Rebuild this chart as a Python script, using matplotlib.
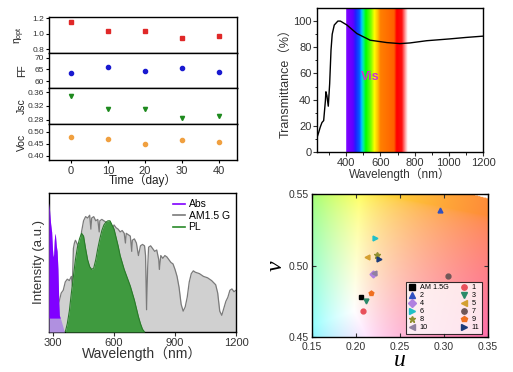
#!/usr/bin/env python
import numpy as np
from matplotlib import pyplot as plt
from matplotlib.colors import LinearSegmentedColormap
from matplotlib.lines import Line2D

W, H = 513, 372
FONT = ['Liberation Sans', 'Noto Sans CJK SC']
plt.rcParams['font.family'] = FONT

# --- stability panel (top left) ---
DAYS = [0, 10, 20, 30, 40]
ETA = [1.15, 1.03, 1.03, 0.95, 0.97]
FF = [63.5, 66.0, 64.5, 65.5, 64.0]
JSC = [0.350, 0.310, 0.311, 0.285, 0.292]
VOC = [0.476, 0.470, 0.450, 0.465, 0.455]

# --- transmittance (top right) ---
T_WL = [229, 239, 248, 258, 268, 278, 281, 287, 295, 303, 311, 318, 330, 351, 366, 404,
        462, 540, 637, 714, 772, 870, 1006, 1100, 1200]
T_VAL = [11, 15, 19, 22.5, 24, 39, 46, 43, 35, 52, 78, 90, 97, 100, 100, 97,
         90.5, 85.4, 83.6, 82.8, 83.3, 85, 86.4, 87.5, 88.5]
VIS_WL = [400, 405, 440, 455, 478, 490, 500, 515, 545, 565, 585, 600, 680, 695, 725, 745, 760]
VIS_COL = ['#a060ff', '#8000ff', '#6000ff', '#2020ff', '#0060ff', '#00c0ff', '#00f0a0',
           '#00ff00', '#80ff00', '#ffff00', '#ffc000', '#ff8000', '#ff6000', '#ff0000',
           '#ff1010', '#ffa0a0', '#ffffff']

# --- spectra (bottom left) ---
AM_WL = [280, 300, 310, 320, 330, 340, 350, 360, 370, 380, 390, 395, 400, 405, 410, 420,
         430, 435, 440, 450, 460, 470, 480, 486, 490, 500, 510, 520, 527, 530, 540, 550,
         560, 570, 580, 590, 600, 610, 620, 630, 640, 650, 656, 660, 670, 680, 687, 690,
         700, 710, 720, 730, 740, 750, 755, 760, 765, 770, 780, 790, 800, 810, 820, 823,
         830, 840, 850, 860, 870, 880, 890, 900, 910, 920, 930, 940, 950, 960, 970, 980,
         990, 1000, 1020, 1040, 1060, 1080, 1100, 1110, 1120, 1130, 1140, 1150, 1160,
         1170, 1180, 1190, 1200]
AM_VAL = [0.0, 0.01, 0.08, 0.18, 0.22, 0.28, 0.30, 0.36, 0.38, 0.37, 0.40, 0.33, 0.60,
          0.64, 0.66, 0.63, 0.60, 0.55, 0.72, 0.80, 0.83, 0.82, 0.84, 0.74, 0.82, 0.83,
          0.80, 0.81, 0.72, 0.80, 0.81, 0.80, 0.79, 0.78, 0.79, 0.74, 0.77, 0.75, 0.74,
          0.72, 0.73, 0.71, 0.64, 0.71, 0.70, 0.69, 0.58, 0.66, 0.67, 0.64, 0.55, 0.62,
          0.63, 0.62, 0.55, 0.16, 0.45, 0.61, 0.62, 0.60, 0.58, 0.59, 0.52, 0.45, 0.55,
          0.53, 0.55, 0.54, 0.52, 0.50, 0.49, 0.45, 0.40, 0.32, 0.20, 0.15, 0.18, 0.25,
          0.36, 0.42, 0.44, 0.43, 0.42, 0.40, 0.39, 0.37, 0.34, 0.28, 0.15, 0.12, 0.17,
          0.22, 0.25, 0.30, 0.31, 0.29, 0.30]
PL_WL = [355, 360, 370, 380, 390, 400, 410, 420, 430, 440, 450, 460, 470, 480, 490, 500,
         510, 520, 530, 540, 550, 560, 570, 580, 590, 600, 610, 620, 630, 640, 650, 660,
         670, 680, 690, 700, 710, 720, 730, 740, 750]
PL_VAL = [0.0, 0.0, 0.06, 0.15, 0.28, 0.40, 0.52, 0.61, 0.67, 0.71, 0.69, 0.60, 0.52,
          0.47, 0.45, 0.46, 0.52, 0.60, 0.67, 0.73, 0.77, 0.79, 0.80, 0.80, 0.77, 0.74,
          0.68, 0.62, 0.55, 0.50, 0.45, 0.41, 0.37, 0.33, 0.28, 0.23, 0.17, 0.11, 0.06,
          0.02, 0.0]
ABS_WL = [280, 284, 288, 293, 297, 300, 303, 306, 309, 312, 316, 320, 324, 328, 331, 340,
          348, 356]
ABS_VAL = [0.93, 0.85, 0.78, 0.72, 0.60, 0.54, 0.56, 0.66, 0.71, 0.69, 0.62, 0.58, 0.45,
           0.22, 0.12, 0.08, 0.04, 0.0]

# --- u'v' chromaticity (bottom right) ---
SAMPLES = ['AM 1.5G', '1', '2', '3', '4', '5', '6', '7', '8', '9', '10', '11']
U = [0.206, 0.208, 0.296, 0.211, 0.219, 0.213, 0.222, 0.304, 0.224, 0.217, 0.220, 0.226]
V = [0.478, 0.468, 0.539, 0.4755, 0.494, 0.506, 0.519, 0.4925, 0.507, 0.481, 0.4945, 0.5045]
MARKERS = ['s', 'o', '^', 'v', 'D', '<', '>', 'o', '*', 'p', '<', '>']
COLORS = ['#000000', '#e8505a', '#3050c0', '#2a8a6a', '#b080e0', '#d4a030', '#20c0c8',
          '#705858', '#909030', '#f07020', '#9080a0', '#1a3a7a']
LOCUS_U = [0.2623, 0.3315, 0.4035]
LOCUS_V = [0.5604, 0.5501, 0.5390]


def px_axes(fig, l, t, r, b):
    return fig.add_axes([l / W, 1 - b / H, (r - l) / W, (b - t) / H])


def draw_stability(fig):
    tops = [17, 53, 88, 124, 160]
    series = [ETA, FF, JSC, VOC]
    labels = [r'$\mathregular{\eta_{opt}}$', 'FF', 'Jsc', 'Voc']
    colors = ['#e02828', '#1a1ad0', '#1e8a1e', '#f0a040']
    markers = ['s', 'o', 'v', 'o']
    ylims = [(0.752, 1.217), (57, 72), (0.268, 0.372), (0.382, 0.532)]
    yticks = [[0.8, 1.0, 1.2], [60, 65, 70], [0.28, 0.32, 0.36], [0.40, 0.45, 0.50]]
    ytl = [['0.8', '1.0', '1.2'], ['60', '65', '70'], ['0.28', '0.32', '0.36'],
           ['0.40', '0.45', '0.50']]
    for i in range(4):
        ax = px_axes(fig, 49, tops[i], 237, tops[i + 1])
        ax.plot(DAYS, series[i], ls='none', marker=markers[i], color=colors[i], ms=3)
        ax.set_xlim(-6, 45)
        ax.set_ylim(*ylims[i])
        ax.set_yticks(yticks[i])
        ax.set_yticklabels(ytl[i], fontsize=6, color='#333333')
        ax.tick_params(axis='y', length=2.5, width=0.8, pad=1)
        ax.set_ylabel(labels[i], fontsize=7.5, color='#222222')
        ax.yaxis.set_label_coords(-0.118, 0.5)
        for s in ax.spines.values():
            s.set_linewidth(1.0)
        if i < 3:
            ax.set_xticks([])
        else:
            ax.set_xticks(DAYS)
            ax.set_xticklabels([str(d) for d in DAYS], fontsize=8, color='#333333')
            ax.tick_params(axis='x', length=2.5, width=0.8, pad=1.5)
            ax.set_xlabel('Time（day）', fontsize=8.5, labelpad=-1, color='#222222')


def draw_transmittance(fig):
    ax = px_axes(fig, 317, 8, 483, 152)
    cmap = LinearSegmentedColormap.from_list(
        'vis', [((w - VIS_WL[0]) / (VIS_WL[-1] - VIS_WL[0]), c) for w, c in zip(VIS_WL, VIS_COL)])
    ax.imshow(np.linspace(0, 1, 400)[None, :], cmap=cmap, aspect='auto',
              extent=[VIS_WL[0], VIS_WL[-1], 0, 110], zorder=0)
    ax.plot(T_WL, T_VAL, color='black', lw=1.0, zorder=3)
    ax.text(540, 57, 'Vis', color='#cc33cc', fontsize=9, fontweight='bold',
            ha='center', va='center')
    ax.set_xlim(229, 1200)
    ax.set_ylim(0, 110)
    ax.set_xticks([400, 600, 800, 1000, 1200])
    ax.set_xticks(range(300, 1200, 200), minor=True)
    ax.set_yticks([0, 20, 40, 60, 80, 100])
    ax.set_yticks(range(10, 110, 20), minor=True)
    ax.tick_params(labelsize=8, length=3, width=0.8, pad=1, colors='#333333')
    ax.tick_params(which='minor', length=1.8, width=0.6)
    ax.set_xlabel('Wavelength（nm）', fontsize=8.5, labelpad=0, color='#333333')
    ax.set_ylabel('Transmittance（%）', fontsize=9, labelpad=1, color='#333333')
    for s in ax.spines.values():
        s.set_linewidth(1.0)


def draw_spectra(fig):
    ax = px_axes(fig, 49, 193, 236, 332)
    ax.fill_between(AM_WL, AM_VAL, color='#d0d0d0', lw=0, zorder=1)
    ax.plot(AM_WL, AM_VAL, color='#7a7a7a', lw=0.9, zorder=2)
    ax.fill_between(PL_WL, PL_VAL, color='#3f9a3f', lw=0, zorder=3)
    ax.plot(PL_WL, PL_VAL, color='#2a7a2a', lw=0.8, zorder=4)
    abs_y = np.array(ABS_VAL)
    ax.fill_between(ABS_WL, abs_y, color='#b090e0', lw=0, zorder=5)
    ax.fill_between(ABS_WL, 0.1, abs_y, where=abs_y > 0.1, interpolate=True,
                    color='#8000ff', lw=0, zorder=6)
    ax.set_xlim(280, 1200)
    ax.set_ylim(0, 1.0)
    ax.set_yticks([])
    ax.set_xticks([300, 600, 900, 1200])
    ax.tick_params(labelsize=8, length=3, width=0.8, pad=1, colors='#333333')
    ax.set_xlabel('Wavelength（nm）', fontsize=10, labelpad=-1, color='#333333')
    ax.set_ylabel('Intensity (a.u.)', fontsize=9.5, labelpad=3, color='#333333')
    handles = [Line2D([], [], color='#8000ff', lw=1.2),
               Line2D([], [], color='#7a7a7a', lw=1.2),
               Line2D([], [], color='#2a8a2a', lw=1.2)]
    ax.legend(handles, ['Abs', 'AM1.5 G', 'PL'], loc='upper right', frameon=False,
              fontsize=7.5, handlelength=1.2, handletextpad=0.3, labelspacing=0.15,
              borderaxespad=0.2)
    for s in ax.spines.values():
        s.set_linewidth(1.0)


def cie_background(u, v):
    den = 6 * u - 16 * v + 12
    x = 9 * u / den
    y = 4 * v / den
    X = x / y
    Z = (1 - x - y) / y
    r = 3.2406 * X - 1.5372 - 0.4986 * Z
    g = -0.9689 * X + 1.8758 + 0.0415 * Z
    b = 0.0557 * X - 0.2040 + 1.0570 * Z
    rgb = np.clip(np.stack([r, g, b], axis=-1), 0, None)
    rgb = rgb / rgb.max(axis=-1, keepdims=True)
    rgb = np.where(rgb <= 0.0031308, 12.92 * rgb, 1.055 * rgb ** (1 / 2.4) - 0.055)
    rgb = 0.78 * rgb + 0.22
    outside = v > np.interp(u, LOCUS_U, LOCUS_V)
    rgb[outside] = 1.0
    return rgb


def draw_chromaticity(fig):
    ax = px_axes(fig, 312, 194, 488, 337)
    uu, vv = np.meshgrid(np.linspace(0.15, 0.35, 300), np.linspace(0.55, 0.45, 200))
    ax.imshow(cie_background(uu, vv), extent=[0.15, 0.35, 0.45, 0.55], aspect='auto', zorder=0)
    handles = []
    for name, u, v, m, c in zip(SAMPLES, U, V, MARKERS, COLORS):
        h, = ax.plot(u, v, ls='none', marker=m, color=c, ms=3.5 if m != '*' else 4.5,
                     label=name, zorder=3)
        handles.append(h)
    order = [0, 2, 4, 6, 8, 10, 1, 3, 5, 7, 9, 11]
    leg = ax.legend([handles[i] for i in order], [SAMPLES[i] for i in order], ncol=2,
                    loc='lower right', bbox_to_anchor=(0.966, 0.021), borderaxespad=0,
                    fontsize=5.2, frameon=True, fancybox=False, edgecolor='black',
                    handlelength=1.0, handletextpad=0.6, columnspacing=1.6,
                    labelspacing=0.14, borderpad=0.35, markerscale=1.1)
    leg.get_frame().set_linewidth(0.8)
    ax.set_xlim(0.15, 0.35)
    ax.set_ylim(0.45, 0.55)
    ax.set_xticks([0.15, 0.20, 0.25, 0.30, 0.35])
    ax.set_xticklabels(['0.15', '0.20', '0.25', '0.30', '0.35'])
    ax.set_yticks([0.45, 0.50, 0.55])
    ax.set_yticklabels(['0.45', '0.50', '0.55'])
    ax.tick_params(direction='in', top=True, right=True, labelsize=7.5, length=3,
                   width=0.8, pad=2, colors='#333333')
    ax.tick_params(axis='x', pad=3.5)
    ax.set_xlabel('u', fontsize=17, family='Liberation Serif', style='italic', labelpad=-1)
    ax.set_ylabel('v', fontsize=17, family='Liberation Serif', style='italic', labelpad=2)
    for s in ax.spines.values():
        s.set_linewidth(1.0)


def main():
    fig = plt.figure(figsize=(W / 100, H / 100), dpi=100)
    draw_stability(fig)
    draw_transmittance(fig)
    draw_spectra(fig)
    draw_chromaticity(fig)
    fig.savefig('out.png', dpi=100)


if __name__ == '__main__':
    main()
